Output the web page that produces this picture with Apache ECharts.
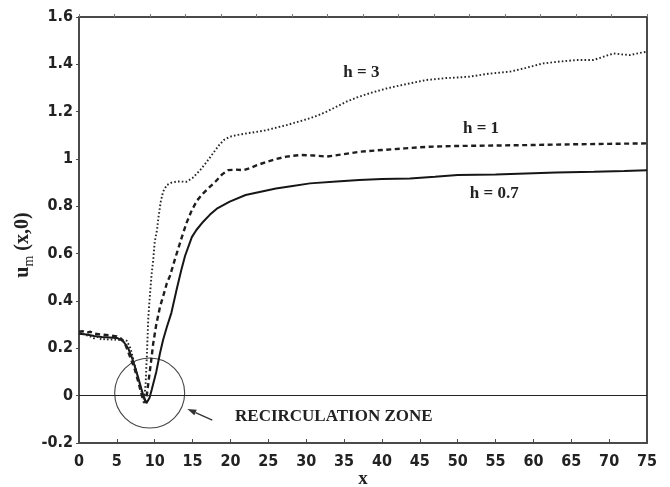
<!DOCTYPE html>
<html>
<head>
<meta charset="utf-8">
<script src="https://cdn.jsdelivr.net/npm/echarts@6/dist/echarts.min.js"></script>
<style>
  html, body { margin: 0; padding: 0; background: #fff; }
  #chart { width: 670px; height: 487px; }
</style>
</head>
<body>
<div id="chart"></div>
<script>
// Centre-line mean velocity u_m(x,0) for three step heights h
const xTicks = [0, 5, 10, 15, 20, 25, 30, 35, 40, 45, 50, 55, 60, 65, 70, 75];
const yTicks = [-0.2, 0, 0.2, 0.4, 0.6, 0.8, 1, 1.2, 1.4, 1.6];

const h07 = [
  [0, 0.262], [1, 0.258], [2, 0.252], [3, 0.248], [4, 0.246], [5, 0.244],
  [5.8, 0.232], [6.5, 0.2], [7, 0.16], [7.5, 0.11], [8, 0.055], [8.5, 0.0],
  [8.9, -0.032], [9.3, -0.01], [9.6, 0.025], [10.2, 0.1], [10.7, 0.18],
  [11.1, 0.235], [11.6, 0.29], [12.2, 0.35], [12.9, 0.45], [13.5, 0.53],
  [14.0, 0.59], [14.9, 0.67], [15.5, 0.7], [16.4, 0.735], [17.3, 0.765],
  [18.2, 0.79], [19.9, 0.82], [22, 0.848], [24, 0.862], [26, 0.875],
  [28, 0.885], [30.5, 0.897], [34, 0.905], [37, 0.911], [40, 0.915],
  [43.7, 0.918], [47, 0.925], [50, 0.932], [55, 0.935], [59, 0.939],
  [63, 0.943], [68, 0.946], [72, 0.949], [75, 0.952]
];

const h1 = [
  [0, 0.27], [0.5, 0.272], [1, 0.266], [1.5, 0.27], [2, 0.262], [3, 0.258],
  [4, 0.255], [5, 0.25], [5.6, 0.24], [6.2, 0.21], [6.8, 0.16], [7.4, 0.108],
  [7.9, 0.05], [8.3, 0.0], [8.6, -0.03], [8.9, -0.01], [9.15, 0.052],
  [9.5, 0.14], [9.8, 0.221], [10.2, 0.3], [10.7, 0.376], [11.2, 0.43],
  [11.6, 0.475], [12.0, 0.505], [12.7, 0.58], [13.6, 0.672], [14.2, 0.73],
  [14.9, 0.784], [15.6, 0.825], [16.4, 0.855], [17.2, 0.88], [18.0, 0.904],
  [18.9, 0.935], [19.7, 0.953], [20.7, 0.955], [21.7, 0.953], [22.6, 0.962],
  [23.5, 0.974], [24.8, 0.988], [26, 1.0], [27.4, 1.01], [29.2, 1.017],
  [31, 1.015], [32.7, 1.01], [34.9, 1.02], [37.1, 1.031], [40, 1.038],
  [43, 1.045], [46.3, 1.052], [50, 1.055], [55, 1.057], [59.6, 1.059],
  [65, 1.062], [70, 1.064], [75, 1.066]
];

const h3 = [
  [0, 0.265], [0.5, 0.262], [1, 0.255], [1.5, 0.25], [2, 0.242], [2.5, 0.248],
  [3, 0.236], [3.5, 0.24], [4, 0.236], [4.5, 0.238], [5, 0.235], [5.6, 0.236],
  [6.3, 0.232], [6.8, 0.2], [7.2, 0.15], [7.7, 0.09], [8.1, 0.04], [8.4, 0.0],
  [8.6, -0.02], [8.8, 0.05], [9.0, 0.2], [9.15, 0.33], [9.4, 0.44],
  [9.6, 0.517], [9.8, 0.573], [10.0, 0.65], [10.3, 0.7], [10.5, 0.756],
  [10.8, 0.82], [11.1, 0.862], [11.6, 0.89], [12.2, 0.9], [13.0, 0.905],
  [14.2, 0.904], [15.0, 0.92], [16.0, 0.953], [16.8, 0.985], [17.7, 1.024],
  [18.4, 1.055], [19.1, 1.08], [19.9, 1.094], [21, 1.102], [22.1, 1.108],
  [23.5, 1.115], [24.8, 1.122], [26.1, 1.133], [27.4, 1.143], [29, 1.158],
  [30.5, 1.172], [31.6, 1.185], [32.7, 1.2], [34, 1.221], [35.3, 1.242],
  [36.7, 1.26], [38.6, 1.28], [40.6, 1.298], [43, 1.315], [45.9, 1.334],
  [48.5, 1.342], [50.3, 1.345], [51.6, 1.348], [54, 1.36], [56.9, 1.369],
  [59, 1.385], [61.3, 1.404], [63.5, 1.412], [65.7, 1.418], [67.9, 1.418],
  [69.5, 1.435], [70.6, 1.446], [71.7, 1.442], [72.8, 1.439], [74, 1.448],
  [75, 1.453]
];

const curveLabels = [
  { text: 'h = 3', at: [34.9, 1.367] },
  { text: 'h = 1', at: [50.7, 1.127] },
  { text: 'h = 0.7', at: [51.6, 0.852] }
];
const zoneCentre = [9.33, 0.011];
const zoneText = 'RECIRCULATION ZONE';
const zoneTextAt = [20.6, -0.09];
const arrowFrom = [17.6, -0.103];
const arrowTo = [14.3, -0.056];

const tickFamily = '"DejaVu Sans Condensed", "DejaVu Sans", sans-serif';
const serif = '"Liberation Serif", "Times New Roman", serif';
const axisGrey = '#4a4a4a';

const chart = echarts.init(document.getElementById('chart'), null, { renderer: 'canvas' });

chart.setOption({
  animation: false,
  backgroundColor: '#fff',
  grid: { left: 79, right: 23, top: 17, bottom: 44, outerBoundsMode: 'none', containLabel: false },
  xAxis: [
    {
      type: 'value', min: xTicks[0], max: xTicks[xTicks.length - 1], interval: 5,
      position: 'bottom',
      axisLine: { show: true, onZero: false, lineStyle: { color: axisGrey, width: 2 } },
      axisTick: { show: true, inside: true, length: 4, lineStyle: { color: axisGrey, width: 1 } },
      axisLabel: {
        margin: 11, color: '#222', fontSize: 16, fontWeight: 'bold', fontFamily: tickFamily
      },
      splitLine: { show: false },
      name: 'x', nameLocation: 'middle', nameGap: 27, nameMoveOverlap: false,
      nameTextStyle: { fontFamily: serif, fontWeight: 'bold', fontSize: 19, color: '#222' }
    },
    {
      type: 'value', min: 0, max: 80, interval: 5, position: 'top',
      axisLine: { show: true, onZero: false, lineStyle: { color: axisGrey, width: 2 } },
      axisTick: { show: true, inside: false, length: 3, lineStyle: { color: '#777', width: 1 } },
      axisLabel: { show: false },
      splitLine: { show: false }
    }
  ],
  yAxis: [
    {
      type: 'value', min: yTicks[0], max: yTicks[yTicks.length - 1], interval: 0.2,
      position: 'left',
      axisLine: { show: true, onZero: false, lineStyle: { color: axisGrey, width: 2 } },
      axisTick: { show: true, inside: false, length: 3, lineStyle: { color: axisGrey, width: 1 } },
      axisLabel: {
        margin: 6, color: '#222', fontSize: 16, fontWeight: 'bold', fontFamily: tickFamily,
        formatter: v => String(parseFloat(v.toFixed(1)))
      },
      splitLine: { show: false }
    },
    {
      type: 'value', min: yTicks[0], max: yTicks[yTicks.length - 1], position: 'right',
      axisLine: { show: true, onZero: false, lineStyle: { color: axisGrey, width: 2 } },
      axisTick: { show: false },
      axisLabel: { show: false },
      splitLine: { show: false }
    }
  ],
  series: [
    {
      name: 'h = 0.7', type: 'line', data: h07, showSymbol: false,
      lineStyle: { color: '#161616', width: 2, type: 'solid' },
      markLine: {
        silent: true, symbol: 'none', label: { show: false },
        lineStyle: { color: '#222', width: 1, type: 'solid' },
        data: [{ yAxis: 0 }]
      }
    },
    {
      name: 'h = 1', type: 'line', data: h1, showSymbol: false,
      lineStyle: { color: '#1e1e1e', width: 2.4, type: [5, 3.5] }
    },
    {
      name: 'h = 3', type: 'line', data: h3, showSymbol: false,
      lineStyle: { color: '#262626', width: 1.9, type: [1.6, 2.2] }
    }
  ]
});

// Annotations placed through the axis scales
const px = p => chart.convertToPixel({ xAxisIndex: 0, yAxisIndex: 0 }, p);
const c = px(zoneCentre);
const a0 = px(arrowFrom);
const a1 = px(arrowTo);
const ang = Math.atan2(a1[1] - a0[1], a1[0] - a0[0]);
const headLen = 9, headW = 3;
const hx = a1[0] - headLen * Math.cos(ang), hy = a1[1] - headLen * Math.sin(ang);
const nx = -Math.sin(ang) * headW, ny = Math.cos(ang) * headW;
const t = px(zoneTextAt);

const graphics = [
  {
    type: 'circle', shape: { cx: c[0], cy: c[1], r: 35 },
    style: { fill: 'none', stroke: '#444', lineWidth: 1.1 }, silent: true
  },
  {
    type: 'line', shape: { x1: a0[0], y1: a0[1], x2: hx, y2: hy },
    style: { stroke: '#333', lineWidth: 1.3 }, silent: true
  },
  {
    type: 'polygon', shape: { points: [[a1[0], a1[1]], [hx + nx, hy + ny], [hx - nx, hy - ny]] },
    style: { fill: '#333' }, silent: true
  },
  {
    type: 'text', x: t[0], y: t[1],
    style: { text: zoneText, font: 'bold 17px ' + serif, fill: '#222', align: 'left', verticalAlign: 'middle' },
    silent: true
  },
  {
    type: 'text', x: 23, y: 245, rotation: Math.PI / 2,
    style: {
      text: '{u|u}{m|m}{p| (x,0)}', align: 'center', verticalAlign: 'middle',
      rich: {
        u: { font: 'bold 20px ' + serif, fill: '#222', lineHeight: 26, verticalAlign: 'middle' },
        m: { font: '14px ' + serif, fill: '#222', lineHeight: 12, verticalAlign: 'bottom' },
        p: { font: 'bold 20px ' + serif, fill: '#222', lineHeight: 26, verticalAlign: 'middle' }
      }
    },
    silent: true
  }
];
curveLabels.forEach(l => {
  const p = px(l.at);
  graphics.push({
    type: 'text', x: p[0], y: p[1],
    style: { text: l.text, font: 'bold 17px ' + serif, fill: '#222', align: 'left', verticalAlign: 'middle' },
    silent: true
  });
});
chart.setOption({ graphic: graphics });
</script>
</body>
</html>
